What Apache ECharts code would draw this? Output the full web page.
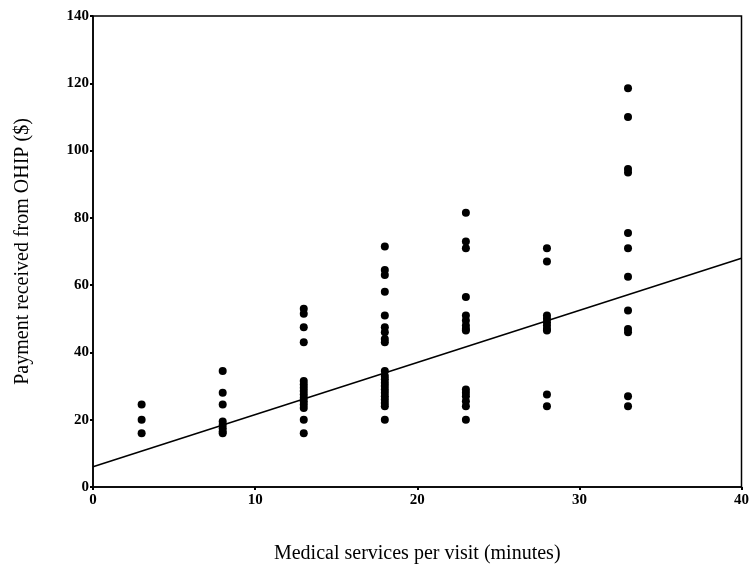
<!DOCTYPE html>
<html>
<head>
<meta charset="utf-8">
<script src="https://cdn.jsdelivr.net/npm/echarts@6/dist/echarts.min.js"></script>
<style>html,body{margin:0;padding:0;background:#fff;}#c{width:752px;height:571px;}</style>
</head>
<body>
<div id="c"></div>
<script>
// Minutes of medical services per visit (x) and payments (y) per column
const minutes = [3, 8, 13, 18, 23, 28, 33];
const pay3  = [24.5, 20, 16];
const pay8  = [34.5, 28, 24.5, 19.5, 18.5, 17.5, 16.5, 16];
const pay13 = [53, 51.5, 47.5, 43, 31.5, 30.5, 29.5, 28.5, 27.5, 26.5, 25.5, 24.5, 23.5, 20, 16];
const pay18 = [71.5, 64.5, 63, 58, 51, 47.5, 46, 44, 43, 34.5, 33, 32, 31, 30, 29, 28, 27, 26, 25, 24, 20];
const pay23 = [81.5, 73, 71, 56.5, 51, 49.5, 48, 47, 46.5, 29, 28, 27, 25.5, 24, 20];
const pay28 = [71, 67, 51, 50, 49, 48, 47, 46.5, 27.5, 24];
const pay33 = [118.5, 110, 94.5, 93.5, 75.5, 71, 62.5, 52.5, 47, 46, 27, 24];
const payCols = [pay3, pay8, pay13, pay18, pay23, pay28, pay33];
// Fitted line endpoints
const fitX = [0, 40];
const fitY = [6, 68];
const xTicks = [0, 10, 20, 30, 40];
const yTicks = [0, 20, 40, 60, 80, 100, 120, 140];

const points = [];
minutes.forEach((m, i) => payCols[i].forEach(v => points.push([m, v])));
const fitLine = fitX.map((x, i) => [x, fitY[i]]);

const font = '"Liberation Serif", "DejaVu Serif", serif';
const chart = echarts.init(document.getElementById('c'));
chart.setOption({
  animation: false,
  backgroundColor: '#fff',
  grid: { left: 93, right: 7, top: 16, bottom: 84, show: true, borderColor: '#000', borderWidth: 1.5, backgroundColor: 'transparent' },
  xAxis: {
    type: 'value', min: 0, max: 40, interval: 10,
    name: 'Medical services per visit (minutes)',
    nameLocation: 'middle', nameGap: 57,
    nameTextStyle: { fontFamily: font, fontSize: 20, color: '#000' },
    axisLine: { show: true, lineStyle: { color: '#000', width: 1.5 } },
    axisTick: { show: true, length: 3, lineStyle: { color: '#000', width: 2 } },
    axisLabel: { fontFamily: font, fontSize: 15, fontWeight: 'bold', color: '#000', margin: 6,
      formatter: v => xTicks.includes(v) ? String(v) : '' },
    splitLine: { show: false }
  },
  yAxis: {
    type: 'value', min: 0, max: 140, interval: 20,
    name: 'Payment received from OHIP ($)',
    nameLocation: 'middle', nameGap: 60,
    nameTextStyle: { fontFamily: font, fontSize: 20, color: '#000' },
    axisLine: { show: true, lineStyle: { color: '#000', width: 1.5 } },
    axisTick: { show: true, length: 3, lineStyle: { color: '#000', width: 2 } },
    axisLabel: { fontFamily: font, fontSize: 15, fontWeight: 'bold', color: '#000', margin: 4,
      formatter: v => yTicks.includes(v) ? String(v) : '' },
    splitLine: { show: false }
  },
  series: [
    {
      type: 'scatter', data: points, symbol: 'circle', symbolSize: 8,
      itemStyle: { color: '#000', opacity: 1 }
    },
    {
      type: 'line', data: fitLine, symbol: 'none',
      lineStyle: { color: '#000', width: 1.6 }
    }
  ]
});
</script>
</body>
</html>
